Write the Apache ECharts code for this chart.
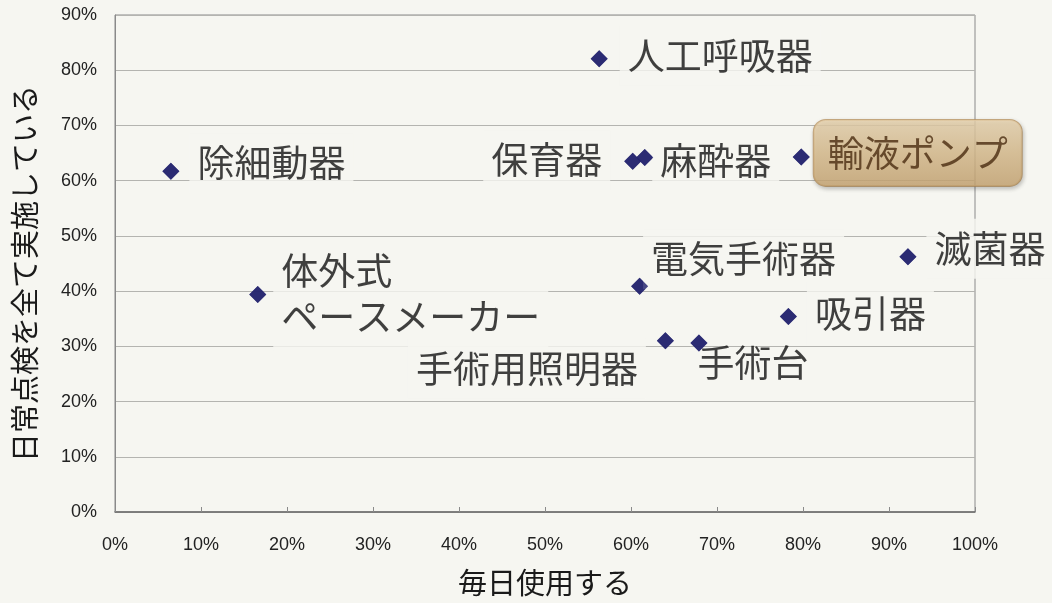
<!DOCTYPE html>
<html>
<head>
<meta charset="utf-8">
<script src="https://cdn.jsdelivr.net/npm/echarts@6/dist/echarts.min.js"></script>
<style>
html,body{margin:0;padding:0;background:#f6f6f1;}
#chart{width:1052px;height:603px;}
</style>
</head>
<body>
<div id="chart"></div>
<script>
// ---- data ----
const names = ['除細動器','体外式\nペースメーカー','人工呼吸器','保育器','麻酔器','輸液ポンプ','電気手術器','滅菌器','吸引器','手術用照明器','手術台'];
const dailyUse = [6.5, 16.6, 56.3, 60.2, 61.6, 79.8, 61.0, 92.2, 78.3, 64.0, 67.9];   // 毎日使用する (%)
const dailyCheck = [61.7, 39.4, 82.1, 63.5, 64.2, 64.3, 40.9, 46.2, 35.4, 31.0, 30.6]; // 日常点検を全て実施している (%)
const xTicks = [0,10,20,30,40,50,60,70,80,90,100];
const yTicks = [0,10,20,30,40,50,60,70,80,90];

// ---- label placement (style, not data) ----
const place = {
  '除細動器': {pos:'right', off:[10,-8]},
  '体外式\nペースメーカー': {pos:'right', off:[7,0], lh:46},
  '人工呼吸器': {pos:'right', off:[12,-3]},
  '保育器': {pos:'left', off:[-14,-1]},
  '麻酔器': {pos:'right', off:[-1,3]},
  '輸液ポンプ': {pos:'right', off:[4,-4], special:true},
  '電気手術器': {pos:'right', off:[-5,-27]},
  '滅菌器': {pos:'right', off:[10,-8]},
  '吸引器': {pos:'right', off:[10,-3], padB:14},
  '手術用照明器': {pos:'left', off:[-11,28]},
  '手術台': {pos:'right', off:[-18,20], noBg:true}
};

const BG = '#f6f6f1';
const labelFont = '"Noto Sans CJK JP", sans-serif';

const labeled = names.map((n, i) => {
  const p = place[n];
  const lab = {
    show: true,
    formatter: n,
    position: p.pos,
    distance: 0,
    offset: p.off,
    fontFamily: labelFont,
    fontSize: 37,
    lineHeight: p.lh || 40,
    color: '#111',
    backgroundColor: p.noBg ? 'transparent' : BG,
    padding: [10, 8, p.padB || 10, 8]
  };
  if (p.special) {
    Object.assign(lab, {
      color: '#4a2c10',
      fontSize: 36,
      backgroundColor: new echarts.graphic.LinearGradient(0,0,0,1,[
        {offset:0,color:'#e8d3ae'},{offset:0.5,color:'#d9bc8c'},{offset:1,color:'#c8a571'}]),
      borderColor: '#bf9a66',
      borderWidth: 1,
      borderRadius: 12,
      padding: [13, 14],
      shadowColor: 'rgba(0,0,0,0.25)',
      shadowBlur: 4,
      shadowOffsetX: 1,
      shadowOffsetY: 2
    });
  }
  return {name: n, value: [dailyUse[i], dailyCheck[i]], label: lab};
});
const points = names.map((n, i) => ({name: n, value: [dailyUse[i], dailyCheck[i]]}));

const chart = echarts.init(document.getElementById('chart'), null, {renderer: 'canvas'});
chart.setOption({
  backgroundColor: BG,
  animation: false,
  grid: {left: 115, right: 77, top: 15, bottom: 91, show: true, borderColor: '#8a8a8a', borderWidth: 1, backgroundColor: 'transparent'},
  xAxis: {
    type: 'value', min: xTicks[0], max: xTicks[xTicks.length-1], interval: 10,
    name: '毎日使用する', nameLocation: 'middle', nameGap: 56,
    nameTextStyle: {fontFamily: labelFont, fontSize: 29, color: '#1a1a1a'},
    axisLine: {show: true, lineStyle: {color: '#6a6a6a', width: 1.5}},
    axisTick: {show: true, inside: true, length: 5, lineStyle: {color: '#8a8a8a'}},
    axisLabel: {formatter: '{value}%', fontFamily: '"Liberation Sans", Arial, sans-serif', fontSize: 18, color: '#222', margin: 24},
    splitLine: {show: false}
  },
  yAxis: {
    type: 'value', min: yTicks[0], max: yTicks[yTicks.length-1], interval: 10,
    name: '日常点検を全て実施している', nameLocation: 'middle', nameGap: 76, nameRotate: 90,
    nameTextStyle: {fontFamily: labelFont, fontSize: 29, color: '#1a1a1a', padding: [0, 20, 0, 0]},
    axisLine: {show: true, lineStyle: {color: '#8a8a8a', width: 1}},
    axisTick: {show: false},
    axisLabel: {formatter: '{value}%', fontFamily: '"Liberation Sans", Arial, sans-serif', fontSize: 18, color: '#222', margin: 18},
    splitLine: {show: true, lineStyle: {color: '#b4b4b0', width: 1}}
  },
  series: [
    {
      type: 'scatter', z: 2,
      symbol: 'diamond', symbolSize: 17,
      itemStyle: {color: '#23236e'},
      data: labeled
    },
    {
      type: 'scatter', z: 10, zlevel: 1,
      symbol: 'diamond', symbolSize: 17,
      itemStyle: {color: '#23236e'},
      label: {show: false},
      data: points
    }
  ]
});
</script>
</body>
</html>
